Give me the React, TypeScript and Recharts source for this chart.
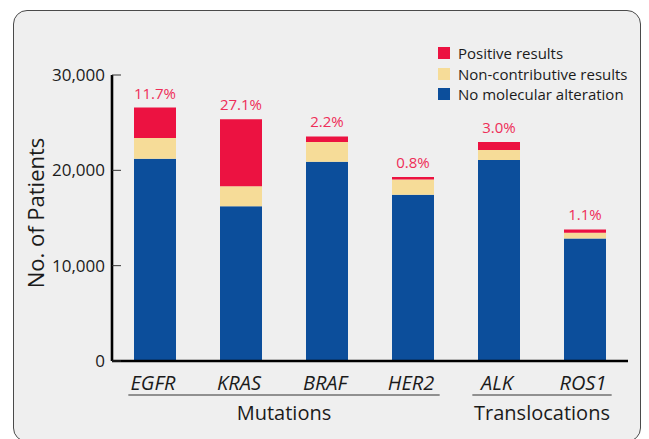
import React from 'react';
import { BarChart, Bar, XAxis, YAxis, Legend, LabelList } from 'recharts';

const categories = ['EGFR', 'KRAS', 'BRAF', 'HER2', 'ALK', 'ROS1'];
const noAlteration = [21220, 16230, 20900, 17450, 21080, 12850];
const nonContributive = [2160, 2100, 2070, 1580, 1050, 600];
const positive = [3200, 7040, 580, 270, 830, 350];
const positivePct = ['11.7%', '27.1%', '2.2%', '0.8%', '3.0%', '1.1%'];
const yTicks = [0, 10000, 20000, 30000];
const groups = [
  { name: 'Mutations', first: 0, last: 3 },
  { name: 'Translocations', first: 4, last: 5 },
];

const data = categories.map((c, i) => ({
  name: c,
  none: noAlteration[i],
  nonContrib: nonContributive[i],
  positive: positive[i],
  pct: positivePct[i],
}));

const W = 649;
const H = 439;
const X_AXIS_H = 30;
const MARGIN = { top: 75, right: 21, bottom: 78 - X_AXIS_H, left: 0 };
const Y_AXIS_W = 112;
const PLOT_W = W - MARGIN.left - MARGIN.right - Y_AXIS_W;
const BAND = PLOT_W / categories.length;

const RED = '#ec1241';
const YELLOW = '#f6dc98';
const BLUE = '#0c4e9b';
const LABEL_RED = '#ee2d58';
const TEXT = '#1b1b1b';
const FONT = '"Open Sans", "Noto Sans", sans-serif';

function YTick(props: any) {
  const { x, y, payload } = props;
  return (
    <g>
      <line x1={x} x2={x + 9} y1={y} y2={y} stroke="#333" strokeWidth={1} />
      <text x={x - 7} y={y} dy={6} textAnchor="end" fontSize={17} fill={TEXT} fontFamily={FONT}>
        {payload.value.toLocaleString('en-US')}
      </text>
    </g>
  );
}

function XTick(props: any) {
  const { x, y, payload, index } = props;
  const g = groups.find((gr) => gr.first === index);
  let extra = null;
  if (g) {
    const x1 = x - BAND * 0.31;
    const x2 = x + (g.last - g.first) * BAND + BAND * 0.31;
    extra = (
      <g>
        <line x1={x1} x2={x2} y1={y + 34} y2={y + 34} stroke="#333" strokeWidth={1.2} />
        <text x={(x1 + x2) / 2} y={y + 59} textAnchor="middle" fontSize={20} fill={TEXT} fontFamily={FONT}>
          {g.name}
        </text>
      </g>
    );
  }
  return (
    <g>
      <text x={x - 2} y={y + 29} textAnchor="middle" fontSize={20} fontStyle="italic" fill={TEXT} fontFamily={FONT}>
        {payload.value}
      </text>
      {extra}
    </g>
  );
}

function PctLabel(props: any) {
  const { x, y, width, value } = props;
  return (
    <text x={x + width / 2} y={y - 9} textAnchor="middle" fontSize={15} fill={LABEL_RED} fontFamily={FONT}>
      {value}
    </text>
  );
}

function YLabel(props: any) {
  const { viewBox } = props;
  const cx = viewBox.x + 35;
  const cy = viewBox.y + viewBox.height / 2 - 5;
  return (
    <text
      x={cx}
      y={cy}
      transform={`rotate(-90, ${cx}, ${cy})`}
      textAnchor="middle"
      dominantBaseline="central"
      fontSize={22}
      fill={TEXT}
      fontFamily={FONT}
    >
      No. of Patients
    </text>
  );
}

function LegendContent(props: any) {
  const items = [...(props.payload || [])].reverse();
  return (
    <div style={{ fontFamily: FONT, fontSize: 15, color: TEXT }}>
      {items.map((it: any) => (
        <div key={it.value} style={{ display: 'flex', alignItems: 'center', height: 20.5, whiteSpace: 'nowrap' }}>
          <span style={{ display: 'inline-block', width: 12, height: 12, background: it.color, marginRight: 8 }} />
          <span>{it.value}</span>
        </div>
      ))}
    </div>
  );
}

export default function App() {
  return (
    <div style={{ position: 'absolute', left: 0, top: 0, width: W, height: H, background: '#fff' }}>
      <div
        style={{
          position: 'absolute',
          left: 13,
          top: 10,
          width: 628,
          height: 432,
          border: '1.6px solid #4a4a4a',
          borderRadius: 14,
          background: '#efefef',
          boxSizing: 'border-box',
        }}
      />
      <div style={{ position: 'absolute', left: 0, top: 0 }}>
        <BarChart width={W} height={H} data={data} margin={MARGIN} barSize={42}>
          <YAxis
            width={Y_AXIS_W}
            domain={[0, 30000]}
            ticks={yTicks}
            interval={0}
            tickLine={false}
            tickSize={0}
            tickMargin={0}
            axisLine={{ stroke: '#000', strokeWidth: 2.6 }}
            tick={<YTick />}
            label={<YLabel />}
          />
          <XAxis
            dataKey="name"
            height={X_AXIS_H}
            interval={0}
            tickLine={false}
            tickSize={0}
            tickMargin={0}
            axisLine={{ stroke: '#000', strokeWidth: 2.6 }}
            tick={<XTick />}
          />
          <Legend
            layout="vertical"
            verticalAlign="middle"
            align="center"
            content={<LegendContent />}
            wrapperStyle={{ left: 438, top: 43, width: 'auto', right: 'auto' }}
          />
          <Bar dataKey="none" name="No molecular alteration" stackId="a" fill={BLUE} isAnimationActive={false} />
          <Bar dataKey="nonContrib" name="Non-contributive results" stackId="a" fill={YELLOW} isAnimationActive={false} />
          <Bar dataKey="positive" name="Positive results" stackId="a" fill={RED} isAnimationActive={false}>
            <LabelList dataKey="pct" content={<PctLabel />} />
          </Bar>
        </BarChart>
      </div>
    </div>
  );
}
